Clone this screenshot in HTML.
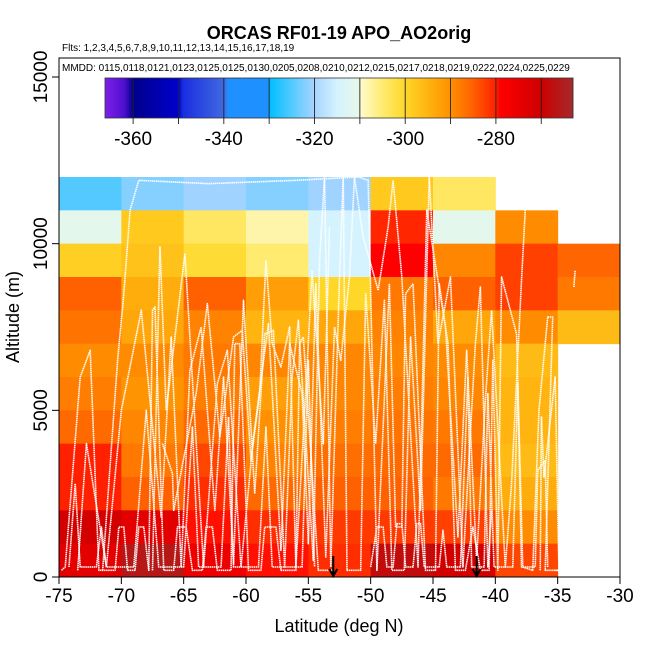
<!DOCTYPE html>
<html><head><meta charset="utf-8"><style>
body{margin:0;background:#fff}
svg text{font-family:"Liberation Sans",sans-serif}
</style></head><body>
<svg id="chart" width="650" height="650" xmlns="http://www.w3.org/2000/svg">
<text x="339" y="39" text-anchor="middle" font-size="18" font-weight="bold">ORCAS RF01-19 APO_AO2orig</text>
<text x="62" y="51" font-size="10">Flts: 1,2,3,4,5,6,7,8,9,10,11,12,13,14,15,16,17,18,19</text>
<g id="cells"></g>
<g id="tracks"></g>
<g id="arrows"></g>
<rect x="59" y="58" width="561" height="519" fill="none" stroke="#000" stroke-width="1"/>
<text x="62" y="71" font-size="10">MMDD: 0115,0118,0121,0123,0125,0125,0130,0205,0208,0210,0212,0215,0217,0218,0219,0222,0224,0225,0229</text>
<g id="cbar"></g>
<g id="axes"></g>
<text x="339" y="632" text-anchor="middle" font-size="18">Latitude (deg N)</text>
<text transform="translate(19,317) rotate(-90)" text-anchor="middle" font-size="18">Altitude (m)</text>
</svg>
<script>
const latEdges=[-75,-70,-65,-60,-55,-50,-45,-40,-35,-30];
const altRows=[11,10,9,8,7,6,5,4,3,2,1,0];
const cellValues=[
[-325,-322,-320.5,-322,-320.5,-298,-304,null,null],
[-311,-298,-304,-308,-315,-280.5,-311,-289.5,null],
[-299,-297,-301,-305,-315,-279,-289,-282.5,-285.5],
[-285,-294,-285,-292,-300,-287.5,-285,-282.5,-287.5],
[-287,-293,-288.5,-295,-293,-288.5,-293,-289.5,-296],
[-289.5,-289.5,-287.5,-289,-289,-289,-289.5,-296,null],
[-288,-290.5,-288,-292,-289,-288,-289,-295,null],
[-286,-289,-286,-290,-288,-287,-287.5,-295,null],
[-280,-287.5,-283,-288.5,-286.5,-286,-286,-296,null],
[-280,-285,-281,-286,-285,-285,-287.5,-294,null],
[-271,-274,-279.5,-281,-282,-282,-282.5,-289.5,null],
[-274,-266,-276,-279.5,-281,-268,-271,-283,null]];
const xTicks=[-75,-70,-65,-60,-55,-50,-45,-40,-35,-30];
const yTicks=[0,5000,10000,15000];
const cbTicks=[-360,-340,-320,-300,-280];
const arrowLats=[-53,-41.5];
const trackA=[[-74.8,200],[-74.5,300],[-73.3,6000],[-72.5,6800],[-71.8,200],[-70.5,200],[-70.2,1500],[-69.8,1500],[-69.5,200],[-68.9,200],[-68.6,1500],[-68.2,1500],[-67.8,200],[-67.5,8000],[-67.3,8100],[-66.6,200],[-65.8,200],[-65.5,1500],[-64.8,1500],[-64.3,200],[-63.5,200],[-63.2,1500],[-62.7,1500],[-62.3,200],[-61.2,200],[-60.9,7000],[-60.5,7000],[-59.8,200],[-58.8,200],[-58.5,1500],[-57.6,1500],[-57.2,200],[-56,200],[-55.7,7000],[-55.4,7200],[-54.2,200],[-53,200]];
const trackB=[[-71.5,200],[-70.3,6500],[-69.8,8500],[-69.3,11000],[-68.6,11900],[-63,11800],[-56,11900],[-51,12000],[-50.2,11900],[-49.5,200],[-48.5,8800],[-48,1500],[-47.5,1500],[-47.2,8500],[-46.6,8800],[-45.6,200],[-44.8,200],[-44.5,8800],[-43.8,7000],[-43.2,200],[-42.4,200],[-41.8,1500],[-41.2,200],[-40.5,200],[-40.2,6500],[-39.8,200],[-39.5,9000],[-38.3,7300],[-37.8,300],[-37,200],[-36.5,5000],[-35.8,7800],[-35.4,7800],[-36,200],[-34.6,200]];
const trackC=[[-73.5,200],[-72.8,4000],[-71.2,300],[-70,5000],[-68.4,8000],[-66.8,1800],[-66,7200],[-65.2,300],[-64.5,6200],[-63.6,7500],[-62.5,2000],[-61.8,6000],[-61,400],[-60.2,8300],[-59.3,2500],[-58.5,7300],[-57.8,7400],[-56.9,300],[-56.3,6000],[-55.8,7700],[-54.6,500],[-54.1,9500],[-53.7,12000],[-53.2,300],[-52.5,9000],[-52.2,12000],[-51.9,200],[-50.8,200],[-50.4,8500],[-49.6,4000],[-48.9,8300],[-48.3,200],[-47.3,200],[-46.8,7200],[-46,2000],[-45.3,12000],[-44.6,7000],[-43.6,9000],[-42.6,300],[-41.6,7000],[-41.2,8700],[-40.6,300],[-40.3,2000]];
const trackD=[[-67.5,200],[-66.9,9900],[-66.4,5000],[-64.9,9700],[-63.4,300],[-62.3,5800],[-61.5,6800],[-60.4,300],[-59.4,4200],[-58.2,7600],[-57.2,800],[-56.5,7000],[-55.5,5500],[-55,1000],[-54.4,8800],[-53.6,600],[-52.9,7500],[-52.4,6500],[-51.7,9000],[-51.3,12000],[-50.6,10200],[-49.4,8600],[-48.6,10500],[-48.2,11900],[-47.5,9000],[-46.2,300],[-45.5,11000],[-44,7500],[-43,1200],[-42.3,6800],[-41.5,500],[-40.8,5300],[-40.3,8000],[-39.2,300],[-38.7,2800],[-37.9,8900],[-37.6,11000]];
const trackE=[[-36.4,200],[-36.3,4800],[-36.1,3000],[-35.2,6000],[-34.9,200],[-35.2,200]];
const trackF=[[-33.7,8700],[-33.6,9200]];
const trackG=[[-66.7,4000],[-65.9,3100],[-65.8,2000],[-64,5500],[-63.1,8200],[-62.1,4200],[-61,7200],[-60.3,7400],[-59.6,3500],[-58.9,5500],[-58.4,9500],[-57.9,7000],[-57.2,6300],[-56.5,7500],[-56.0,300],[-55.2,5600],[-54.7,9200],[-53.8,4000],[-53.3,10500]];
const trackH=[[-50,300],[-49.5,1500],[-49,1500],[-48.7,300],[-48.2,300],[-47.9,1600],[-47.5,1600],[-47.2,300],[-46.6,300],[-46.3,1600],[-46,1600],[-45.7,300],[-44.5,300],[-44.2,1400],[-43.9,300],[-42.8,300],[-42.2,6000],[-41.9,300],[-40.9,300],[-40.6,5500],[-40.1,300],[-38.6,300],[-38.2,5800],[-37.9,300],[-36.8,300],[-36.6,3200],[-36,3500],[-35.8,300]];
const trackI=[[-74.2,300],[-73.7,2800],[-73.3,300],[-72,300],[-71.6,1500],[-71.2,300],[-69,300],[-68,5000],[-67,300],[-65,300],[-64.3,4500],[-63.8,300],[-62,300],[-61.4,4800],[-61,300],[-59,300],[-58.4,4500],[-57.9,300],[-55.5,300],[-55,6500],[-54.5,300]];
const tracks=[trackA,trackB,trackC,trackD,trackE,trackF,trackG,trackH,trackI];

const X0=59,X1=620,Y0=577,Y1=77;
const xs=v=>X0+(v+75)/45*(X1-X0);
const ys=v=>Y0-v/15000*(Y0-Y1);
const stops=[[-366,[123,31,232]],[-362,[80,16,208]],[-360,[0,0,139]],[-350,[0,0,205]],[-349,[26,46,224]],[-340,[65,105,225]],[-339,[30,144,255]],[-330,[30,144,255]],[-329.9,[0,191,255]],[-320,[168,212,255]],[-315,[212,243,254]],[-310.1,[232,248,232]],[-310,[255,252,208]],[-305,[255,235,112]],[-300,[255,215,40]],[-295,[255,180,16]],[-290,[255,144,0]],[-285,[255,96,0]],[-280,[255,32,0]],[-279,[255,0,0]],[-270,[205,0,0]],[-263,[165,42,42]]];
function cmap(v){
 if(v<=stops[0][0])return 'rgb('+stops[0][1]+')';
 for(let i=1;i<stops.length;i++){if(v<=stops[i][0]){const a=stops[i-1],b=stops[i];const t=(v-a[0])/(b[0]-a[0]);return 'rgb('+a[1].map((c,k)=>Math.round(c+(b[1][k]-c)*t)).join(',')+')';}}
 return 'rgb('+stops[stops.length-1][1]+')';
}
const NS='http://www.w3.org/2000/svg';
function mk(tag,attrs,parent){const e=document.createElementNS(NS,tag);for(const k in attrs)e.setAttribute(k,attrs[k]);parent.appendChild(e);return e;}
const cells=document.getElementById('cells');
cellValues.forEach((row,ri)=>{row.forEach((v,ci)=>{if(v===null)return;
 const a=altRows[ri]*1000;
 const r=mk('rect',{x:xs(latEdges[ci]),y:ys(a+1000),width:xs(latEdges[ci+1])-xs(latEdges[ci])+0.5,height:ys(a)-ys(a+1000)+0.5,fill:cmap(v)},cells);
 
 
});});
const tg=document.getElementById('tracks');
tracks.forEach(t=>{
 const p=mk('polyline',{points:t.map(q=>xs(q[0])+','+ys(q[1])).join(' '),fill:'none',stroke:'#fff','stroke-width':1.6,'stroke-dasharray':'1.5 0.6','stroke-linejoin':'round'},tg);
 
 
});
const ag=document.getElementById('arrows');
arrowLats.forEach(l=>{const x=xs(l);
 const g=mk('g',{stroke:'#000','stroke-width':2,fill:'none'},ag);
 
 
 mk('line',{x1:x,y1:556,x2:x,y2:576},g);
 mk('polyline',{points:(x-4)+',569 '+x+',576 '+(x+4)+',569'},g);
});
const cb=document.getElementById('cbar');
const CB0=105,CB1=573,cv0=-366.2,cv1=-263;
const cx=v=>CB0+(v-cv0)/(cv1-cv0)*(CB1-CB0);
for(let i=0;i<(CB1-CB0);i++){const v=cv0+(i+0.5)/(CB1-CB0)*(cv1-cv0);
 const r=mk('rect',{x:CB0+i,y:78,width:1.3,height:40,fill:cmap(v)},cb);
 
 
}
mk('rect',{x:CB0,y:78,width:CB1-CB0,height:40,fill:'none',stroke:'#333','stroke-width':0.8},cb);
for(let v=-360;v<=-270;v+=10){mk('line',{x1:cx(v),y1:78,x2:cx(v),y2:124,stroke:'#222','stroke-width':0.9},cb);}
cbTicks.forEach(v=>{const t=mk('text',{x:cx(v),y:145,'text-anchor':'middle','font-size':19},cb);t.textContent=v;
 
 });
const ax=document.getElementById('axes');
xTicks.forEach(v=>{mk('line',{x1:xs(v),y1:577,x2:xs(v),y2:584,stroke:'#000'},ax);
 const t=mk('text',{x:xs(v),y:602,'text-anchor':'middle','font-size':19},ax);t.textContent=v;
 
 });
yTicks.forEach(v=>{mk('line',{x1:52,y1:ys(v),x2:59,y2:ys(v),stroke:'#000'},ax);
 const t=mk('text',{transform:'translate(47,'+ys(v)+') rotate(-90)','text-anchor':'middle','font-size':19},ax);t.textContent=v;
 
 });
</script>
</body></html>
